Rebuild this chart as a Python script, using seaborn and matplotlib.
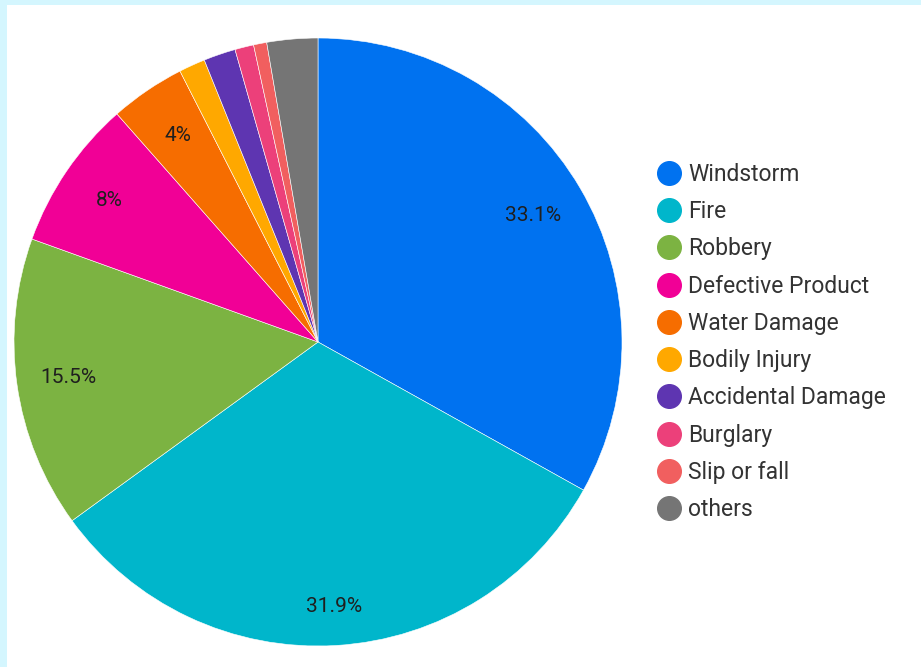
import matplotlib
matplotlib.use("Agg")
import matplotlib.pyplot as plt
from matplotlib.lines import Line2D
from matplotlib.patches import Rectangle
import numpy as np
import seaborn as sns

# data
categorias = ['Windstorm', 'Fire', 'Robbery', 'Defective Product', 'Water Damage',
              'Bodily Injury', 'Accidental Damage', 'Burglary', 'Slip or fall', 'others']
valores = [33.1, 31.9, 15.5, 8.0, 4.0, 1.4, 1.7, 1.0, 0.7, 2.7]
rotulos = ['33.1%', '31.9%', '15.5%', '8%', '4%', '', '', '', '', '']
cores = ['#0072F0', '#00B6CB', '#7CB342', '#F10096', '#F66D00',
         '#FFA800', '#5E35B1', '#EC407A', '#F15F5F', '#757575']

sns.set_style('white')
plt.rcParams['font.family'] = ['Roboto', 'DejaVu Sans']
paleta = sns.color_palette(cores)

fig = plt.figure(figsize=(9.21, 6.67), dpi=100)
fig.patch.set_facecolor('#D4F6FE')
fig.patches.append(Rectangle((7 / 921, 0), 1, (667 - 5) / 667,
                             transform=fig.transFigure, facecolor='white',
                             edgecolor='none', zorder=-5))

ax = fig.add_axes([(318 - 304) / 921, (325 - 304) / 667, 608 / 921, 608 / 667])
ax.set_facecolor('none')
ax.set_zorder(2)
fatias, _ = ax.pie(valores, colors=paleta, startangle=90, counterclock=False,
                   radius=1, wedgeprops=dict(edgecolor='white', linewidth=0.4))
ax.set_aspect('equal')
ax.set_xlim(-1, 1)
ax.set_ylim(-1, 1)
ax.axis('off')

# rotulos de porcentagem
acum = 0
for v, r, d in zip(valores, rotulos, [0.82, 0.87, 0.83, 0.83, 0.82, 0, 0, 0, 0, 0]):
    meio = 90 - (acum + v / 2) * 3.6
    acum += v
    if r:
        ax.text(d * np.cos(np.radians(meio)), d * np.sin(np.radians(meio)), r,
                ha='center', va='center', fontsize=15, color='#1f1f1f')

alcas = [Line2D([], [], marker='o', linestyle='none', markersize=17,
                markerfacecolor=c, markeredgecolor=c) for c in paleta]
leg = fig.legend(alcas, categorias, loc='center left',
                 bbox_to_anchor=(646 / 921, (667 - 342) / 667), frameon=False,
                 fontsize=16.5, labelspacing=0.62, handletextpad=0.35,
                 handlelength=1.0, borderpad=0)
leg.set_zorder(3)
for t in leg.get_texts():
    t.set_color('#333333')

fig.savefig('out.png', dpi=100)
